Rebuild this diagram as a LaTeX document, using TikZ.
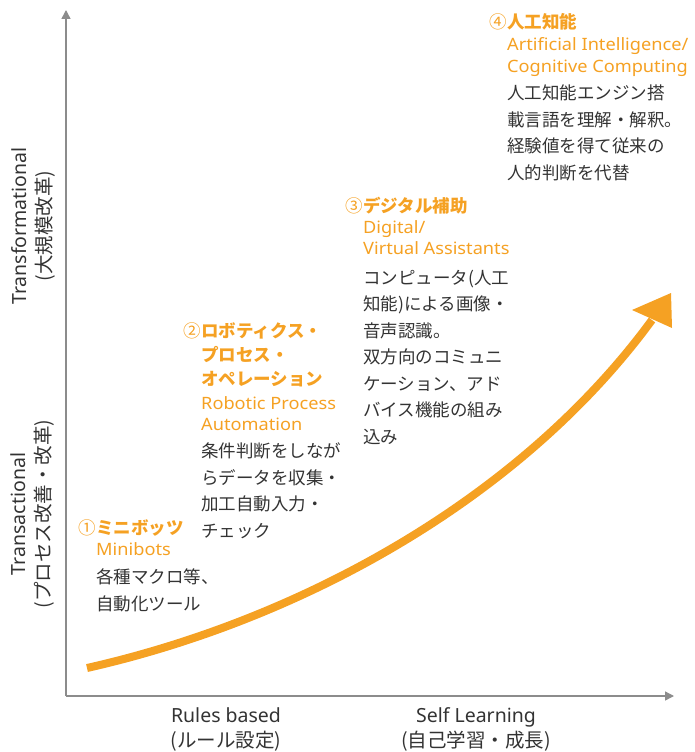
\documentclass[tikz,border=0pt]{standalone}
\usepackage{fontspec}
\setmainfont{Noto Sans CJK JP}
\newfontfamily\lat{Noto Sans}
\newfontfamily\latw{Noto Sans}[FakeStretch=1.07]
\usetikzlibrary{arrows.meta}
\definecolor{axisgray}{HTML}{8C8C8C}
\definecolor{orng}{HTML}{F5A123}
\definecolor{txt}{HTML}{333333}
\begin{document}
\begin{tikzpicture}[x=1pt,y=-1pt]
\useasboundingbox (0,0) rectangle (695,752);
\tikzset{
  axis/.style={draw=axisgray, line width=1.4pt, -{Triangle[width=9pt,length=9pt]}},
  numstyle/.style={anchor=base east, inner sep=0pt, text=orng, font=\fontsize{17.5}{24}\selectfont},
  jtitle/.style={anchor=base west, inner sep=0pt, text=orng, font=\bfseries\fontsize{17.5}{24}\selectfont, align=left},
  etitle/.style={anchor=base west, inner sep=0pt, text=orng, font=\latw\fontsize{17}{21}\selectfont, align=left},
  body/.style={anchor=base west, inner sep=0pt, text=txt, font=\fontsize{17.5}{26.5}\selectfont, align=left},
  axlabel/.style={inner sep=0pt, text=txt, font=\fontsize{19.5}{25}\selectfont, align=center}
}
% axes
\coordinate (O) at (66,696);
\coordinate (Ytip) at (66,10);
\coordinate (Xtip) at (674,696);
\draw[axis] (O) -- (Ytip);
\draw[axis] (O) -- (Xtip);
% axis labels
\node[axlabel, rotate=90] (ytop) at (33,226) {{\lat Transformational}\\(大規模改革)};
\node[axlabel, rotate=90] (ybot) at (33,514) {{\lat Transactional}\\(プロセス改善・改革)};
\node[axlabel] (xl) at (226,729) {{\lat Rules based}\\(ルール設定)};
\node[axlabel] (xr) at (476,729) {{\lat Self Learning}\\(自己学習・成長)};
% growth curve
\coordinate (cs) at (87,668);
\coordinate (ce) at (652,320);
\draw[orng, line width=8pt] (cs) .. controls (300,620) and (520,500) .. (ce);
\fill[orng] (671,293) -- (632,310) -- (672,328) -- cycle;
% block 1 (multi-line nodes are placed at the baseline of their last line)
\node[jtitle] (t1) at (96,534) {ミニボッツ};
\node[numstyle] (n1) at (t1.base west) {①};
\node[etitle] (e1) at (96,555) {Minibots};
\node[body] (b1) at (96,610) {各種マクロ等、\\自動化ツール};
% block 2
\node[jtitle] (t2) at (201,385) {ロボティクス・\\プロセス・\\オペレーション};
\node[numstyle] (n2) at (201,337) {②};
\node[etitle] (e2) at (201,430) {Robotic Process\\Automation};
\node[body] (b2) at (201,537) {条件判断をしなが\\らデータを収集・\\加工自動入力・\\チェック};
% block 3
\node[jtitle] (t3) at (363,212) {デジタル補助};
\node[numstyle] (n3) at (t3.base west) {③};
\node[etitle] (e3) at (363,254) {Digital/\\Virtual Assistants};
\node[body] (b3) at (363,443) {コンピュータ(人工\\知能)による画像・\\音声認識。\\双方向のコミュニ\\ケーション、アド\\バイス機能の組み\\込み};
% block 4
\node[jtitle] (t4) at (507,29) {人工知能};
\node[numstyle] (n4) at (t4.base west) {④};
\node[etitle] (e4) at (507,72) {Artificial Intelligence/\\Cognitive Computing};
\node[body] (b4) at (507,179) {人工知能エンジン搭\\載言語を理解・解釈。\\経験値を得て従来の\\人的判断を代替};
\end{tikzpicture}
\end{document}
